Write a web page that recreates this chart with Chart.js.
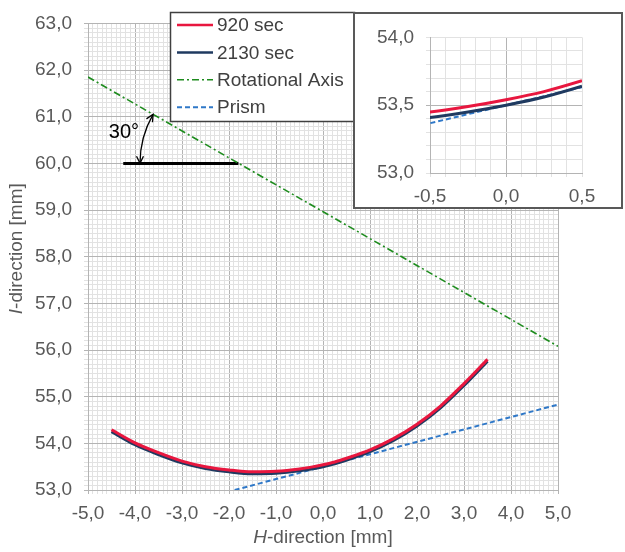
<!DOCTYPE html>
<html>
<head>
<meta charset="utf-8">
<script src="https://cdn.jsdelivr.net/npm/chart.js@4.4.0/dist/chart.umd.min.js"></script>
<style>
  body { margin: 0; background: #fff; }
  #wrap { position: relative; width: 625px; height: 552px; }
  #main { position: absolute; left: 0; top: 0; }
  #insetBox { position: absolute; left: 353px; top: 12px; width: 270px; height: 197px;
    box-sizing: border-box; border: 2px solid #595959; background: #fff; }
  #inset { display: block; }
</style>
</head>
<body>
<div id="wrap">
  <canvas id="main" width="625" height="552"></canvas>
  <div id="insetBox"><canvas id="inset" width="266" height="193"></canvas></div>
</div>
<script>
// measured profile (H in mm, I in mm)
const curveX  = [-4.5, -4, -3.5, -3, -2.5, -2, -1.5, -1, -0.5, -0.25, 0, 0.25, 0.5, 1, 1.5, 2, 2.5, 3, 3.5];
const sec920  = [54.29, 54.01, 53.80, 53.62, 53.50, 53.43, 53.39, 53.40, 53.45, 53.49, 53.54, 53.60, 53.68, 53.86, 54.10, 54.41, 54.80, 55.28, 55.80];
const sec2130 = [54.25, 53.97, 53.76, 53.58, 53.46, 53.39, 53.35, 53.36, 53.41, 53.45, 53.50, 53.56, 53.64, 53.82, 54.06, 54.37, 54.76, 55.24, 55.76];

// reference lines
const rotX = [-5, 5];
const rotY = [61.85, 56.08];
const prismX = [-1.88, 5];
const prismY = [53.0, 54.83];

// 30 degree marker
const angleLineX = [-4.25, -1.8];
const angleLineY = [60, 60];
const arcRadius = 2.1;

const FONT = '"Liberation Sans", Arial, sans-serif';
const FS = 19;
const TXT = "#595959";
const MAJOR = "#b4b4b4";
const MINOR = "#e2e2e2";

const pts = (xs, ys) => xs.map((x, i) => ({ x: x, y: ys[i] }));
const isMult = (v, m) => Math.abs(v / m - Math.round(v / m)) < 1e-6;
const fmt = v => (Math.abs(v) < 1e-9 ? 0 : v).toFixed(1).replace(".", ",");

function curveSets() {
  return [
    { label: "920 sec", data: pts(curveX, sec920), borderColor: "#e8173f", borderWidth: 3,
      inLegend: true, cubicInterpolationMode: "monotone" },
    { label: "2130 sec", data: pts(curveX, sec2130), borderColor: "#1f3a60", borderWidth: 3,
      inLegend: true, cubicInterpolationMode: "monotone" },
  ];
}

const prismSet = () => ({ label: "Prism", data: pts(prismX, prismY), borderColor: "#2f78c8",
  borderWidth: 2, borderDash: [5, 3], inLegend: true });

const mainSets = curveSets().concat([
  { label: "Rotational Axis", data: pts(rotX, rotY), borderColor: "#1e8c1e", borderWidth: 1.6,
    borderDash: [7, 3, 2, 3], inLegend: true },
  prismSet(),
  { label: "angle", data: pts(angleLineX, angleLineY), borderColor: "#000", borderWidth: 3 },
]);

function axis(min, max, labelStep, isMajor, tickPad, fit) {
  return {
    type: "linear", min: min, max: max,
    afterFit: fit,
    ticks: {
      stepSize: 0.1, autoSkip: false, maxRotation: 0, padding: tickPad,
      color: TXT, font: { family: FONT, size: FS },
      callback: v => isMult(v, labelStep) ? fmt(v) : ""
    },
    grid: {
      color: c => isMajor(c.tick.value) ? MAJOR : MINOR,
      tickColor: c => isMajor(c.tick.value) ? MAJOR : MINOR,
      tickLength: 4, lineWidth: 1
    },
    border: { color: MAJOR }
  };
}

const titlesPlugin = {
  id: "titles",
  afterDraw(chart) {
    const ctx = chart.ctx;
    const draw = (parts, x, y) => {
      let total = 0;
      const w = parts.map(p => {
        ctx.font = (p[1] ? "italic " : "") + FS + "px " + FONT;
        const m = ctx.measureText(p[0]).width; total += m; return m;
      });
      let cx = x - total / 2;
      parts.forEach((p, i) => {
        ctx.font = (p[1] ? "italic " : "") + FS + "px " + FONT;
        ctx.fillText(p[0], cx, y); cx += w[i];
      });
    };
    ctx.save();
    ctx.fillStyle = TXT; ctx.textAlign = "left"; ctx.textBaseline = "middle";
    const a = chart.chartArea;
    draw([["H", true], ["-direction [mm]", false]], (a.left + a.right) / 2, 538);
    ctx.translate(17, (a.top + a.bottom) / 2 - 8);
    ctx.rotate(-Math.PI / 2);
    draw([["I", true], ["-direction [mm]", false]], 0, 0);
    ctx.restore();
  }
};

const anglePlugin = {
  id: "angle",
  afterDatasetsDraw(chart) {
    const { x: xs, y: ys } = chart.scales;
    const ctx = chart.ctx;
    // centre where the horizontal marker meets the rotational axis
    const t = (angleLineY[0] - rotY[0]) / (rotY[1] - rotY[0]);
    const hx = rotX[0] + t * (rotX[1] - rotX[0]);
    const cx = xs.getPixelForValue(hx), cy = ys.getPixelForValue(angleLineY[0]);
    const r = xs.getPixelForValue(hx + arcRadius) - cx;
    const a0 = Math.atan2(ys.getPixelForValue(rotY[0]) - ys.getPixelForValue(rotY[1]),
                          xs.getPixelForValue(rotX[0]) - xs.getPixelForValue(rotX[1]));
    const a1 = -Math.PI;
    ctx.save();
    ctx.strokeStyle = "#000"; ctx.lineWidth = 1.3;
    ctx.beginPath(); ctx.arc(cx, cy, r, a0, a1, true); ctx.stroke();
    const head = (th, sign) => {
      const px = cx + r * Math.cos(th), py = cy + r * Math.sin(th);
      const dx = -Math.sin(th) * sign, dy = Math.cos(th) * sign;
      const L = 8, s = 0.45;
      ctx.beginPath();
      ctx.moveTo(px - L * (dx * Math.cos(s) - dy * Math.sin(s)), py - L * (dy * Math.cos(s) + dx * Math.sin(s)));
      ctx.lineTo(px, py);
      ctx.lineTo(px - L * (dx * Math.cos(-s) - dy * Math.sin(-s)), py - L * (dy * Math.cos(-s) + dx * Math.sin(-s)));
      ctx.stroke();
    };
    head(a0, 1);
    head(a1, -1);
    const mid = (a0 + a1) / 2;
    ctx.fillStyle = "#000"; ctx.font = "20px " + FONT;
    ctx.textAlign = "center"; ctx.textBaseline = "middle";
    ctx.fillText("30°", cx + (r + 20) * Math.cos(mid), cy + (r + 20) * Math.sin(mid));
    ctx.restore();
  }
};

const legendPlugin = {
  id: "boxLegend",
  afterDraw(chart) {
    const ctx = chart.ctx;
    const items = chart.data.datasets.filter(d => d.inLegend);
    const x0 = 170.5, y0 = 12.5, w = 184, h = 109;
    ctx.save();
    ctx.fillStyle = "#fff"; ctx.fillRect(x0, y0, w, h);
    ctx.strokeStyle = "#404040"; ctx.lineWidth = 1.5; ctx.strokeRect(x0, y0, w, h);
    ctx.font = FS + "px " + FONT; ctx.textBaseline = "middle"; ctx.textAlign = "left";
    items.forEach((d, i) => {
      const y = 25 + i * 27.4;
      ctx.strokeStyle = d.borderColor;
      ctx.lineWidth = Math.min(d.borderWidth, 2.5);
      ctx.setLineDash(d.borderDash || []);
      ctx.beginPath(); ctx.moveTo(177, y); ctx.lineTo(213, y); ctx.stroke();
      ctx.setLineDash([]);
      ctx.fillStyle = "#404040";
      ctx.fillText(d.label, 217, y + 1);
    });
    ctx.restore();
  }
};

const common = {
  type: "scatter",
  options: {
    responsive: false, animation: false, devicePixelRatio: 1,
    showLine: true,
    elements: { point: { radius: 0, hoverRadius: 0 }, line: { fill: false } },
    plugins: { legend: { display: false }, tooltip: { enabled: false } },
    events: []
  }
};

new Chart(document.getElementById("main"), {
  type: common.type,
  data: { datasets: mainSets },
  options: Object.assign({}, common.options, {
    layout: { padding: { top: 20, right: 67, left: 0, bottom: 0 } },
    scales: {
      x: axis(-5, 5, 1, v => isMult(v, 1), 8, s => { s.height = 62; }),
      y: axis(53, 63, 1, v => isMult(v, 1), 12, s => { s.width = 88; })
    }
  }),
  plugins: [titlesPlugin, anglePlugin, legendPlugin]
});

new Chart(document.getElementById("inset"), {
  type: common.type,
  data: { datasets: curveSets().concat([prismSet()]) },
  options: Object.assign({}, common.options, {
    layout: { padding: { top: 9, right: 39, left: 0, bottom: 0 } },
    scales: {
      x: axis(-0.5, 0.5, 0.5, v => Math.abs(v) < 1e-6, 8, s => { s.height = 34; }),
      y: axis(53, 54, 0.5, v => Math.abs(v - 53.5) < 1e-6, 12, s => { s.width = 75; })
    }
  })
});
</script>
</body>
</html>
